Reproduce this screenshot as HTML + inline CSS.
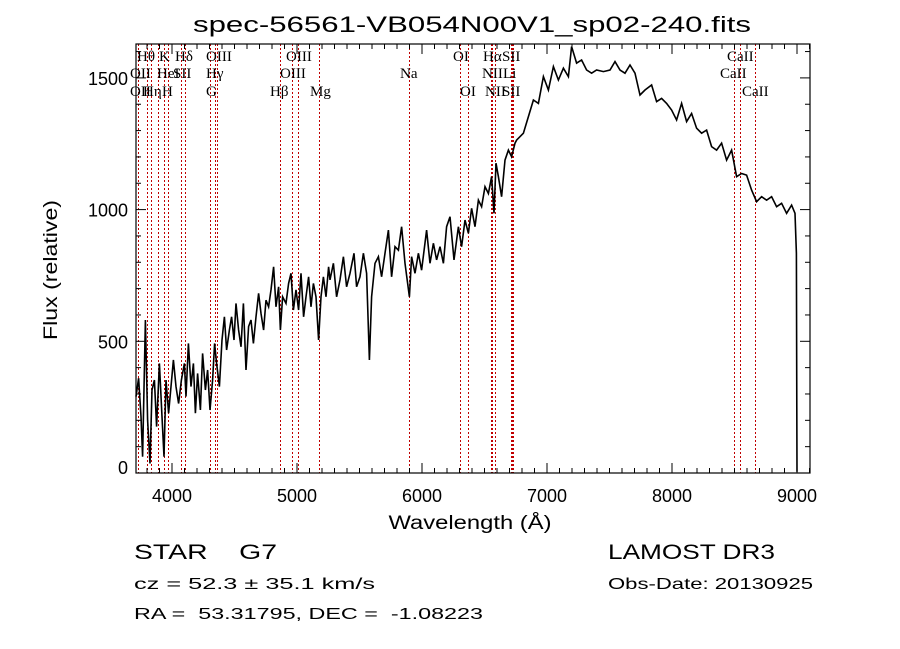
<!DOCTYPE html>
<html><head><meta charset="utf-8"><style>
html,body{margin:0;padding:0;background:#fff;}
svg{display:block;}
text{font-family:"Liberation Sans",sans-serif;fill:#000;white-space:pre;}
.lbl{font-family:"Liberation Serif",serif;font-size:15px;}
</style></head><body>
<svg id="chart" width="900" height="649" viewBox="0 0 900 649" xmlns="http://www.w3.org/2000/svg" xml:space="preserve">
<rect width="900" height="649" fill="#fff"/>
<text x="472" y="32" text-anchor="middle" font-size="22" textLength="558" lengthAdjust="spacingAndGlyphs">spec-56561-VB054N00V1_sp02-240.fits</text>
<g id="lines"></g>
<g id="labels"></g>
<g id="series"></g>
<g id="axes"></g>
<text x="470" y="529" text-anchor="middle" font-size="19" textLength="163" lengthAdjust="spacingAndGlyphs">Wavelength (Å)</text>
<text transform="translate(57,270) rotate(-90)" text-anchor="middle" font-size="19" textLength="140" lengthAdjust="spacingAndGlyphs">Flux (relative)</text>
<text x="134" y="559" font-size="21" textLength="143" lengthAdjust="spacingAndGlyphs">STAR    G7</text>
<text x="608" y="559" font-size="21" textLength="167" lengthAdjust="spacingAndGlyphs">LAMOST DR3</text>
<text x="134" y="589" font-size="16" textLength="241" lengthAdjust="spacingAndGlyphs">cz = 52.3 ± 35.1 km/s</text>
<text x="608" y="589" font-size="16" textLength="205" lengthAdjust="spacingAndGlyphs">Obs-Date: 20130925</text>
<text x="134" y="619" font-size="16" textLength="349" lengthAdjust="spacingAndGlyphs">RA =  53.31795, DEC =  -1.08223</text>
</svg>
<script>
const wavelengths = [3712,3733,3752,3765,3787,3805,3824,3840,3859,3877,3899,3920,3936,3952,3973,3992,4011,4032,4053,4075,4099,4112,4131,4152,4171,4187,4205,4227,4245,4267,4285,4304,4325,4341,4357,4379,4400,4419,4437,4459,4477,4496,4512,4533,4552,4571,4592,4613,4632,4651,4672,4693,4712,4733,4752,4773,4792,4813,4832,4853,4867,4885,4912,4933,4952,4971,4992,5013,5032,5053,5072,5093,5112,5131,5152,5173,5192,5211,5232,5253,5264,5291,5317,5344,5371,5397,5424,5456,5477,5504,5531,5557,5579,5597,5624,5651,5677,5704,5731,5757,5784,5811,5837,5864,5899,5917,5944,5971,5997,6037,6064,6091,6117,6144,6171,6197,6224,6256,6291,6317,6344,6371,6397,6424,6451,6477,6504,6531,6557,6576,6592,6611,6637,6664,6691,6717,6744,6757,6811,6851,6891,6931,6971,7011,7051,7091,7131,7171,7197,7237,7277,7317,7357,7397,7451,7504,7544,7584,7624,7664,7704,7744,7784,7837,7877,7917,7957,7997,8037,8077,8117,8157,8197,8237,8277,8317,8357,8397,8437,8477,8517,8557,8597,8637,8677,8717,8757,8797,8837,8877,8917,8957,8984,8995,8998,9000];
const fluxValues = [290,360,214,62,581,201,36,315,353,176,416,214,62,353,227,328,429,328,264,353,416,290,492,328,416,227,378,239,454,315,391,239,353,492,416,328,505,593,467,543,593,505,644,543,479,644,391,556,581,492,593,682,606,543,656,631,695,783,631,707,543,669,644,720,758,619,695,619,758,593,669,745,631,720,669,505,669,745,669,783,733,796,669,733,821,707,758,834,707,745,834,758,429,669,796,821,745,834,922,745,859,846,935,796,669,821,758,834,770,922,796,872,809,859,796,935,973,809,935,859,960,910,1005,935,1036,1011,1087,1061,1125,986,1176,1125,1049,1188,1226,1201,1252,1264,1290,1353,1416,1403,1505,1454,1543,1492,1537,1505,1619,1556,1568,1530,1518,1530,1524,1530,1562,1530,1518,1549,1518,1435,1454,1473,1410,1422,1403,1378,1340,1403,1334,1365,1309,1290,1302,1239,1226,1252,1188,1226,1125,1137,1131,1074,1030,1049,1036,1049,1011,1024,986,1017,986,834,250,5];
const lineWavelengths = [3727,3798,3835,3889,3934,3969,4072,4102,4304,4340,4363,4861,4959,5007,5175,5893,6300,6364,6548,6563,6583,6708,6717,6731,8498,8542,8662];
const labelTexts = ["Hθ","K","Hδ","OIII","OIII","OI","Hα","SII","CaII","OII","HeI","SII","Hγ","OIII","Na","NII","Li","CaII","OII","Hη","H","G","Hβ","Mg","OI","NII","SII","CaII"];
const labelRows = [0,0,0,0,0,0,0,0,0,1,1,1,1,1,1,1,1,1,2,2,2,2,2,2,2,2,2,2];
const labelX = [137,159,175,206,286,453,483,502,727,130,157,173,206,280,400,482,503,720,130,143,162,206,270,310,460,485,502,742];
const xTicks = [4000,5000,6000,7000,8000,9000];
const yTicks = [0,500,1000,1500];

const L=136,R=810,T=44,B=473;
function xs(l){return 172+(l-4000)*0.125;}
function ys(f){return 473-f*0.2634;}
const NS='http://www.w3.org/2000/svg';
function mk(tag,parent){const e=document.createElementNS(NS,tag);parent.appendChild(e);return e;}

const gl=document.getElementById('lines');
lineWavelengths.forEach(w=>{
  const ln=mk('line',gl);
  
  
  const x=Math.round(xs(w))+0.5;
  ln.setAttribute('x1',x);ln.setAttribute('x2',x);ln.setAttribute('y1',T);ln.setAttribute('y2',B);
  ln.setAttribute('stroke','#c00000');ln.setAttribute('stroke-width','1');ln.setAttribute('stroke-dasharray','2,2');
});
const glb=document.getElementById('labels');
const rowY=[61,78,96];
labelTexts.forEach((t,i)=>{
  const tx=mk('text',glb);
  
  
  tx.setAttribute('class','lbl');
  tx.setAttribute('x',labelX[i]);tx.setAttribute('y',rowY[labelRows[i]]);
  tx.textContent=t;
});
const gs=document.getElementById('series');
const p=mk('path',gs);


let d='';
wavelengths.forEach((w,i)=>{d+=(i?'L':'M')+xs(w).toFixed(1)+','+ys(fluxValues[i]).toFixed(1);});
p.setAttribute('d',d);p.setAttribute('fill','none');p.setAttribute('stroke','#000');p.setAttribute('stroke-width','1.6');p.setAttribute('stroke-linejoin','miter');

const ga=document.getElementById('axes');
const box=mk('rect',ga);


box.setAttribute('x',L);box.setAttribute('y',T);box.setAttribute('width',R-L);box.setAttribute('height',B-T);
box.setAttribute('fill','none');box.setAttribute('stroke','#000');box.setAttribute('stroke-width','1.2');
function tick(x1,y1,x2,y2){const t=mk('line',ga);t.setAttribute('x1',x1);t.setAttribute('y1',y1);t.setAttribute('x2',x2);t.setAttribute('y2',y2);t.setAttribute('stroke','#000');t.setAttribute('stroke-width','1');}
for(let w=3800;w<=9100;w+=100){const x=xs(w);const len=(w%1000===0)?10:5;tick(x,B,x,B-len);tick(x,T,x,T+len);}
for(let f=0;f<=1600;f+=100){const y=ys(f);const len=(f%500===0)?10:5;tick(L,y,L+len,y);tick(R,y,R-len,y);}
xTicks.forEach(v=>{const t=mk('text',ga);t.setAttribute('x',xs(v));t.setAttribute('y',502);t.setAttribute('text-anchor','middle');t.setAttribute('font-size','18');t.textContent=v;});
yTicks.forEach(v=>{const t=mk('text',ga);t.setAttribute('x',128);t.setAttribute('y',ys(v)+(v===0?1:7));t.setAttribute('text-anchor','end');t.setAttribute('font-size','18');t.textContent=v;});
</script>
</body></html>
